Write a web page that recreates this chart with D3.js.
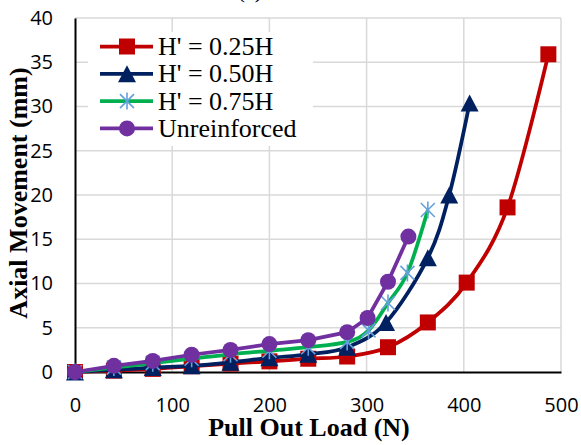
<!DOCTYPE html>
<meta charset="utf-8">
<style>
  body { margin: 0; background: #fff; }
</style>
<script src="https://d3js.org/d3.v7.min.js"></script>
<div id="chart"></div>
<script>
  // pull out load (N) and axial movement (mm)
  var load25 = [0, 40, 80, 120, 160, 200, 240, 280, 322, 363, 403, 445, 487];
  var move25 = [0, 0.15, 0.35, 0.65, 0.95, 1.2, 1.5, 1.75, 2.8, 5.6, 10.1, 18.6, 35.9];
  var load50 = [0, 40, 80, 120, 160, 200, 240, 280, 320, 363, 385, 406];
  var move50 = [0, 0.25, 0.5, 0.7, 1.1, 1.6, 2.0, 2.8, 5.6, 12.9, 20.0, 30.4];
  var load75 = [0, 40, 80, 120, 160, 200, 240, 280, 302, 322, 342, 363];
  var move75 = [0, 0.5, 1.0, 1.5, 2.0, 2.4, 2.8, 3.4, 4.7, 7.8, 11.2, 18.3];
  var loadUn = [0, 40, 80, 120, 160, 200, 240, 280, 301, 322, 343];
  var moveUn = [0, 0.7, 1.25, 1.95, 2.5, 3.15, 3.6, 4.5, 6.1, 10.2, 15.3];

  var seriesNames = ["H' = 0.25H", "H' = 0.50H", "H' = 0.75H", "Unreinforced"];
  var xTicks = [0, 100, 200, 300, 400, 500];
  var yTicks = [0, 5, 10, 15, 20, 25, 30, 35, 40];

  var series = [
    {name: seriesNames[0], x: load25, y: move25, color: "#C00000", marker: "square", smooth: true},
    {name: seriesNames[1], x: load50, y: move50, color: "#002060", marker: "triangle", smooth: true},
    {name: seriesNames[2], x: load75, y: move75, color: "#00B050", marker: "star", smooth: true},
    {name: seriesNames[3], x: loadUn, y: moveUn, color: "#7030A0", marker: "circle", smooth: false}
  ];

  var margin = {top: 18, right: 20, bottom: 73, left: 75},
    width = 581 - margin.left - margin.right,
    height = 445 - margin.top - margin.bottom;

  var svg = d3.select("#chart")
    .append("svg")
      .attr("width", 581)
      .attr("height", 445);

  var g = svg.append("g")
    .attr("transform", "translate(" + margin.left + "," + margin.top + ")");

  var x = d3.scaleLinear().domain([0, 500]).range([0, width]);
  var y = d3.scaleLinear().domain([0, 40]).range([height, 0]);

  // gridlines
  g.append("g").selectAll("line")
    .data(yTicks.slice(1))
    .enter().append("line")
      .attr("x1", 0).attr("x2", width)
      .attr("y1", function(d) { return y(d); })
      .attr("y2", function(d) { return y(d); })
      .attr("stroke", "#d9d9d9").attr("stroke-width", 1.5);
  g.append("g").selectAll("line")
    .data(xTicks.slice(1))
    .enter().append("line")
      .attr("y1", 0).attr("y2", height)
      .attr("x1", function(d) { return x(d); })
      .attr("x2", function(d) { return x(d); })
      .attr("stroke", "#d9d9d9").attr("stroke-width", 1.5);

  // axes
  var xAxis = g.append("g")
    .attr("transform", "translate(0," + height + ")")
    .call(d3.axisBottom(x).tickValues(xTicks).tickSize(0).tickPadding(26));
  var yAxis = g.append("g")
    .call(d3.axisLeft(y).tickValues(yTicks).tickSize(0).tickPadding(22));
  [xAxis, yAxis].forEach(function(a) {
    a.selectAll("text")
      .style("font-family", "'Open Sans', sans-serif")
      .style("font-size", "20px")
      .style("fill", "#000");
    a.select(".domain").attr("stroke", "#000").attr("stroke-width", 2);
  });

  // marker drawing
  function drawMarker(sel, type, color) {
    if (type === "square") {
      sel.append("rect")
        .attr("x", -8).attr("y", -8).attr("width", 16).attr("height", 16)
        .attr("fill", color);
    } else if (type === "triangle") {
      sel.append("path")
        .attr("d", "M0,-8.5L9,8.5L-9,8.5Z")
        .attr("fill", color);
    } else if (type === "circle") {
      sel.append("circle").attr("r", 8).attr("fill", color);
    } else {
      sel.append("path")
        .attr("d", "M0,-8.5L0,8.5M-7,-7L7,7M-7,7L7,-7")
        .attr("stroke", "#64A0DC").attr("stroke-width", 1.6).attr("fill", "none");
    }
  }

  var smoothLine = d3.line()
    .x(function(d) { return x(d[0]); })
    .y(function(d) { return y(d[1]); })
    .curve(d3.curveCardinal.tension(0));
  var straightLine = d3.line()
    .x(function(d) { return x(d[0]); })
    .y(function(d) { return y(d[1]); });

  series.forEach(function(s) {
    var pts = s.x.map(function(v, i) { return [v, s.y[i]]; });
    g.append("path")
      .datum(pts)
      .attr("d", s.smooth ? smoothLine : straightLine)
      .attr("fill", "none")
      .attr("stroke", s.color)
      .attr("stroke-width", 3.75);
    g.append("g").selectAll("g")
      .data(pts)
      .enter().append("g")
        .attr("transform", function(d) { return "translate(" + x(d[0]) + "," + y(d[1]) + ")"; })
        .each(function() { drawMarker(d3.select(this), s.marker, s.color); });
  });

  // legend
  var legend = svg.append("g");
  legend.append("rect")
    .attr("x", 88).attr("y", 32).attr("width", 225).attr("height", 114)
    .attr("fill", "#fff");
  series.forEach(function(s, i) {
    var ly = 46.5 + i * 27.3;
    var row = legend.append("g").attr("transform", "translate(0," + ly + ")");
    row.append("line")
      .attr("x1", 100).attr("x2", 153)
      .attr("stroke", s.color).attr("stroke-width", 3.75);
    drawMarker(row.append("g").attr("transform", "translate(127,0)"), s.marker, s.color);
    row.append("text")
      .attr("x", 158).attr("y", 8.6)
      .style("font-family", "'Liberation Serif', 'Times New Roman', serif")
      .style("font-size", "26px")
      .text(s.name);
  });

  // axis titles
  svg.append("text")
    .attr("transform", "translate(27," + 193 + ") rotate(-90)")
    .attr("text-anchor", "middle")
    .style("font-family", "'Liberation Serif', 'Times New Roman', serif")
    .style("font-size", "26px")
    .style("font-weight", "bold")
    .text("Axial Movement (mm)");
  svg.append("text")
    .attr("x", 309).attr("y", 436)
    .attr("text-anchor", "middle")
    .style("font-family", "'Liberation Serif', 'Times New Roman', serif")
    .style("font-size", "26px")
    .style("font-weight", "bold")
    .text("Pull Out Load (N)");

  // chart title, cut off at the top edge
  svg.append("text")
    .attr("x", 250).attr("y", -2)
    .attr("text-anchor", "middle")
    .style("font-family", "'Liberation Serif', 'Times New Roman', serif")
    .style("font-size", "22px")
    .text("(a)");
</script>
